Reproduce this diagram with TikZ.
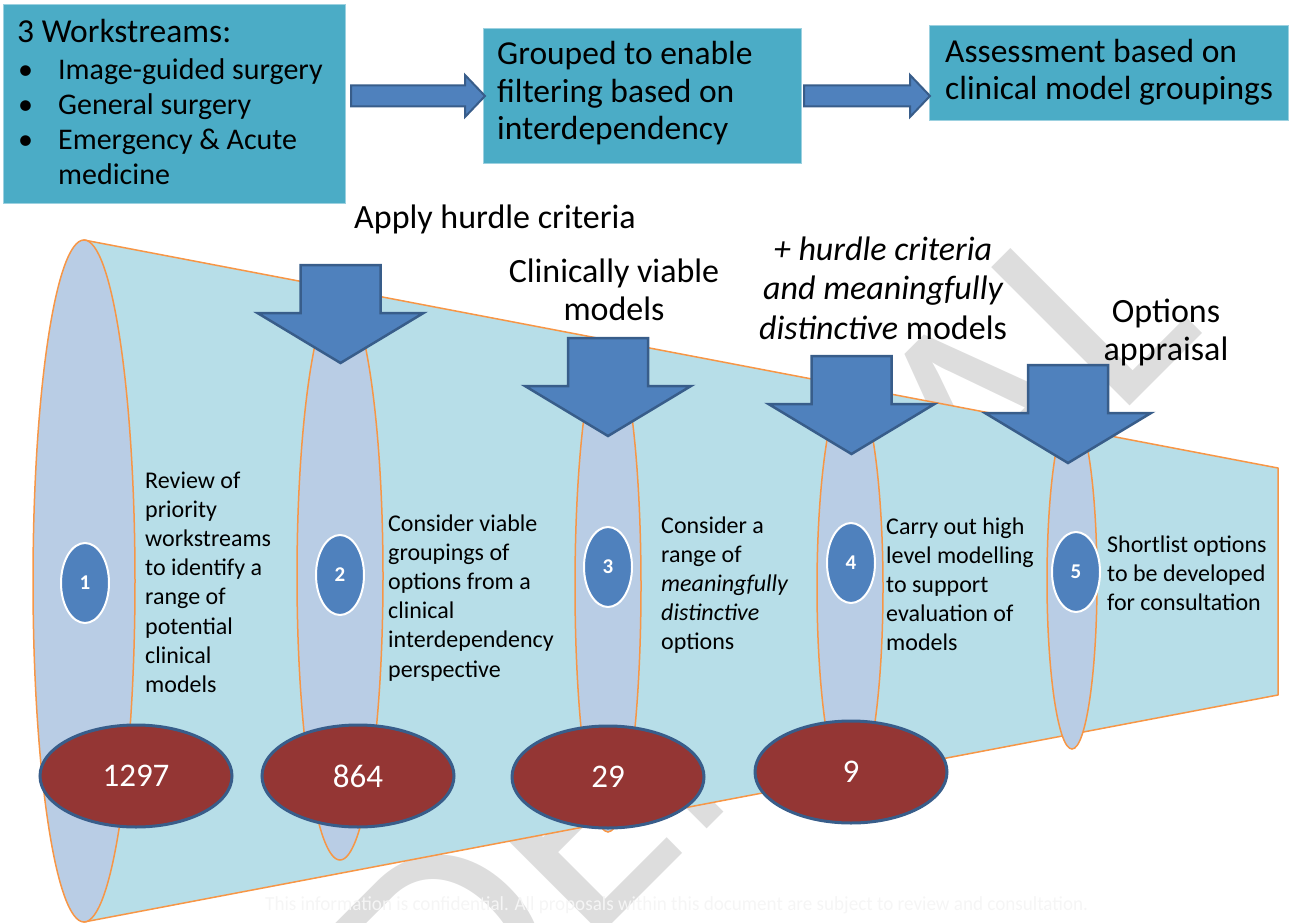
\documentclass[tikz,border=0pt]{standalone}
\usepackage{fontspec}
\usepackage{graphicx}
\setmainfont{Carlito}
\usetikzlibrary{shapes.geometric,calc}

\definecolor{boxblue}{HTML}{4BACC6}
\definecolor{arrowblue}{HTML}{4F81BD}
\definecolor{arrowedge}{HTML}{385D8A}
\definecolor{conefill}{HTML}{B7DEE8}
\definecolor{coneedge}{HTML}{F79646}
\definecolor{slicefill}{HTML}{B9CDE5}
\definecolor{countred}{HTML}{943634}
\definecolor{markgrey}{HTML}{DDDDDD}
\definecolor{notegrey}{HTML}{F5F5F5}

% multi-line blocks whose baseline is the first line
\newcommand\leftlines[1]{\vtop{\halign{##\hfil\cr#1\crcr}}}
\newcommand\midlines[1]{\vtop{\halign{\hfil##\hfil\cr#1\crcr}}}
\newcommand\bul{\makebox[41pt][l]{\hspace{1pt}•}}

% block arrow pointing right, from a start point to a tip
\newcommand\rightblock[2]{%
  \draw[flowarrow] let \p1=#1, \p2=#2 in
    (\x1,\y1+10.5pt) -- (\x2-20pt,\y1+10.5pt) -- (\x2-20pt,\y1+21pt) --
    (\x2,\y1) -- (\x2-20pt,\y1-21pt) -- (\x2-20pt,\y1-10.5pt) --
    (\x1,\y1-10.5pt) -- cycle;}
% block arrow pointing down: name, centre x, top y
\newcommand\downblock[3]{%
  \draw[downarrow] (#2-40,#3) -- (#2+40,#3) -- (#2+40,#3+48) -- (#2+83,#3+48)
    -- (#2,#3+98) -- (#2-83,#3+48) -- (#2-40,#3+48) -- cycle;
  \coordinate (#1) at (#2,#3+98);}

\tikzset{
  topbox/.style={draw=boxblue!55!white, line width=1pt, fill=boxblue,
    inner sep=0, anchor=north west},
  flowarrow/.style={fill=arrowblue, draw=arrowedge, line width=2pt, line join=miter},
  downarrow/.style={fill=arrowblue, draw=arrowedge, line width=2.5pt, line join=miter},
  conebody/.style={fill=conefill, draw=coneedge, line width=1.5pt, line join=round},
  crosscut/.style={ellipse, fill=slicefill, draw=coneedge, line width=1.5pt, inner sep=0},
  numdot/.style={ellipse, fill=arrowblue, draw=white, line width=2pt, inner sep=0,
    minimum width=48pt, minimum height=80pt, text=white,
    font=\fontsize{21}{21}\selectfont\bfseries},
  countoval/.style={ellipse, fill=countred, draw=arrowedge, line width=3pt, inner sep=0,
    minimum width=192pt, minimum height=102pt, text=white,
    font=\fontsize{33}{33}\selectfont},
  boxtext/.style={anchor=base west, inner sep=0},
  steptext/.style={anchor=base west, inner sep=0, font=\fontsize{24}{29.2}\selectfont},
  headtext/.style={anchor=base, inner sep=0},
  wmark/.style={text=markgrey, inner sep=0, font=\fontsize{305}{305}\selectfont},
}

\begin{document}
\begin{tikzpicture}[x=1pt,y=-1pt]
\useasboundingbox (0,0) rectangle (1290,923);
\clip (0,0) rectangle (1290,923);

% watermark
\node[wmark, rotate=45, anchor=base east] (mark) at (1206,330) {CONFIDENTIAL};

% footer note
\node[anchor=base west, inner sep=0, text=notegrey] (note) at (265,910)
  {\resizebox{823pt}{\height}{\fontsize{20}{24}\selectfont This information is confidential. All proposals within this document are subject to review and consultation.}};

% top row of boxes
\node[topbox, minimum width=342pt, minimum height=199pt] (ws) at (3,4) {};
\node[topbox, minimum width=318pt, minimum height=135pt] (gb) at (483,28) {};
\node[topbox, minimum width=359pt, minimum height=95pt] (as) at (929,25) {};

\node[boxtext, font=\fontsize{30}{35}\selectfont] (wstext) at (17,43)
  {\leftlines{{\fontsize{33.5}{35}\selectfont 3 Workstreams:}\cr\noalign{\vskip2pt}
   \bul Image-guided surgery\cr \bul General surgery\cr
   \bul Emergency \& Acute\cr \hspace*{41pt}medicine}};
\node[boxtext, font=\fontsize{33.5}{37.5}\selectfont] (gbtext) at (497,65)
  {\leftlines{Grouped to enable\cr filtering based on\cr interdependency}};
\node[boxtext, font=\fontsize{33.5}{37}\selectfont] (astext) at (945,63)
  {\leftlines{Assessment based on\cr clinical model groupings}};

\rightblock{($(ws.east|-gb.west)+(5,0)$)}{($(gb.west)+(2,0)$)}
\rightblock{($(gb.east)+(2,0)$)}{($(as.west|-gb.east)+(1,0)$)}

% the funnel
\coordinate (ctop) at (84,240);
\coordinate (cbot) at (84,922);
\coordinate (rtop) at (1278,468);
\coordinate (rbot) at (1278,695);
\draw[conebody] (ctop) -- (rtop) -- (rbot) -- (cbot) -- cycle;

\node[crosscut, minimum width=102pt, minimum height=682pt] (s1) at (84,581) {};
\node[crosscut, minimum width=86pt, minimum height=568pt] (s2) at (340,576) {};
\node[crosscut, minimum width=66pt, minimum height=492pt] (s3) at (608,586) {};
\node[crosscut, minimum width=66pt, minimum height=412pt] (s4) at (850,587.5) {};
\node[crosscut, minimum width=50pt, minimum height=337pt] (s5) at (1072,580.5) {};

% filter arrows
\downblock{tipA}{340.5}{265}
\downblock{tipB}{608}{338}
\downblock{tipC}{851.5}{356}
\downblock{tipD}{1068}{365}

% stage numbers
\node[numdot] (n1) at (85,583) {1};
\node[numdot] (n2) at (340,575) {2};
\node[numdot] (n3) at (608,567) {3};
\node[numdot] (n4) at (851,563) {4};
\node[numdot] (n5) at (1076,572) {5};

% model counts
\node[countoval] (k1) at (136,776) {1297};
\node[countoval] (k2) at (358,776) {864};
\node[countoval] (k3) at (608,777) {29};
\node[countoval] (k4) at (851,772) {9};

% stage descriptions
\node[steptext] (step1) at (145,488) {\leftlines{Review of\cr priority\cr workstreams\cr
  to identify a\cr range of\cr potential\cr clinical\cr models}};
\node[steptext] (step2) at (388,531) {\leftlines{Consider viable\cr groupings of\cr
  options from a\cr clinical\cr interdependency\cr perspective}};
\node[steptext] (step3) at (661,533) {\leftlines{Consider a\cr range of\cr
  \itshape meaningfully\cr \itshape distinctive\cr options}};
\node[steptext] (step4) at (886,534) {\leftlines{Carry out high\cr level modelling\cr
  to support\cr evaluation of\cr models}};
\node[steptext] (step5) at (1107,552) {\leftlines{Shortlist options\cr
  to be developed\cr for consultation}};

% filter headings
\node[headtext, font=\fontsize{34}{38.3}\selectfont] (hurdle) at (495,228) {Apply hurdle criteria};
\node[headtext, font=\fontsize{34}{38.3}\selectfont] (viable) at (614,282)
  {\midlines{Clinically viable\cr models}};
\node[headtext, font=\fontsize{34}{39.5}\selectfont] (distinct) at (883,260)
  {\midlines{\itshape + hurdle criteria\cr \itshape and meaningfully\cr
   {\itshape distinctive} models}};
\node[headtext, font=\fontsize{34}{38.3}\selectfont] (appraisal) at (1166,322)
  {\midlines{Options\cr appraisal}};
\end{tikzpicture}
\end{document}
